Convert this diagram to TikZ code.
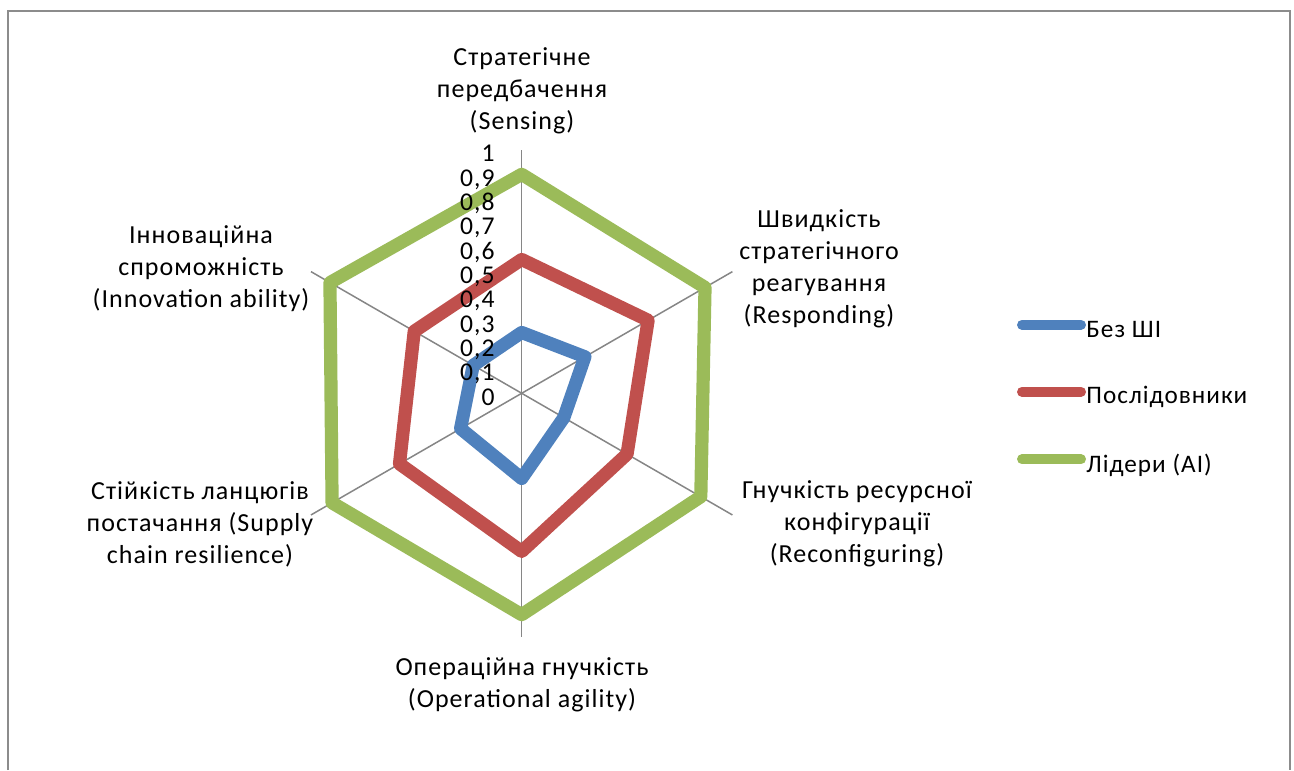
\documentclass[tikz,border=0pt]{standalone}
\usepackage{fontspec}
\setmainfont{Carlito}[LetterSpace=4]
\usetikzlibrary{calc}
\definecolor{serblue}{HTML}{4F81BD}
\definecolor{serred}{HTML}{C0504D}
\definecolor{sergreen}{HTML}{9BBB59}
\definecolor{axisgray}{HTML}{868686}
\definecolor{framegray}{HTML}{8C8C8C}
\begin{document}
\begin{tikzpicture}[x=0.5pt,y=0.5pt,
  series/.style={line width=6.6pt, line join=round, line cap=round},
  spoke/.style={draw=axisgray, line width=0.75pt},
  framestyle/.style={draw=framegray, line width=1pt},
  axislbl/.style={align=center, font=\fontsize{13}{16}\selectfont, inner sep=0pt},
  ticklbl/.style={anchor=base east, font=\fontsize{12.8}{15}\selectfont, inner sep=0pt},
  leglbl/.style={anchor=base west, font=\fontsize{12.6}{15}\selectfont, inner sep=0pt},
  legline/.style={line width=5pt, line cap=round},
]
\useasboundingbox (0,0) rectangle (1294,770);
% frame
\coordinate (f1) at (7.7,0);
\coordinate (f2) at (7.7,759);
\coordinate (f3) at (1289.5,759);
\coordinate (f4) at (1289.5,0);
\draw[framestyle] (f1) -- (f2) -- (f3) -- (f4);
% centre and spokes
\coordinate (C) at (521.7,376.7);
\def\R{243.3}
\foreach \a [count=\i] in {90,30,-30,-90,-150,150}
  \draw[spoke] (C) -- ++(\a:\R) coordinate (ax\i);
% series
\draw[series, serblue] ($(C)+(90:{0.25*\R})$) -- ($(C)+(30:{0.30*\R})$) -- ($(C)+(-30:{0.20*\R})$)
  -- ($(C)+(-90:{0.35*\R})$) -- ($(C)+(-150:{0.29*\R})$) -- ($(C)+(150:{0.23*\R})$) -- cycle;
\draw[series, serred] ($(C)+(90:{0.55*\R})$) -- ($(C)+(30:{0.60*\R})$) -- ($(C)+(-30:{0.50*\R})$)
  -- ($(C)+(-90:{0.65*\R})$) -- ($(C)+(-150:{0.58*\R})$) -- ($(C)+(150:{0.51*\R})$) -- cycle;
\draw[series, sergreen] ($(C)+(90:{0.90*\R})$) -- ($(C)+(30:{0.87*\R})$) -- ($(C)+(-30:{0.85*\R})$)
  -- ($(C)+(-90:{0.91*\R})$) -- ($(C)+(-150:{0.90*\R})$) -- ($(C)+(150:{0.91*\R})$) -- cycle;
% tick labels
\foreach \v/\t in {0/0,1/{0,1},2/{0,2},3/{0,3},4/{0,4},5/{0,5},6/{0,6},7/{0,7},8/{0,8},9/{0,9},10/1}
  \node[ticklbl] (tick\v) at (495,{364.7+\v*24.33}) {\t};
% axis labels
\node[axislbl] (lsense) at (522,679) {Стратегічне\\передбачення\\(Sensing)};
\node[axislbl] (lresp) at (819,501) {Швидкість\\стратегічного\\реагування\\(Responding)};
\node[axislbl] (lreconf) at (857,246) {Гнучкість ресурсної\\конфігурації\\(Reconfiguring)};
\node[axislbl] (loper) at (522,85) {Операційна гнучкість\\(Operational agility)};
\node[axislbl] (lsupply) at (200,246) {Стійкість ланцюгів\\постачання (Supply\\chain resilience)};
\node[axislbl] (linnov) at (201,501) {Інноваційна\\спроможність\\(Innovation ability)};
% legend
\coordinate (lb1) at (1022,445.3); \coordinate (lb2) at (1081,445.3);
\coordinate (lr1) at (1022,378.3); \coordinate (lr2) at (1081,378.3);
\coordinate (lg1) at (1022,310.7); \coordinate (lg2) at (1081,310.7);
\draw[legline, serblue] (lb1) -- (lb2);
\draw[legline, serred] (lr1) -- (lr2);
\draw[legline, sergreen] (lg1) -- (lg2);
\node[leglbl] (tb) at (1086,432.3) {Без ШІ};
\node[leglbl] (tr) at (1086,366.3) {Послідовники};
\node[leglbl] (tg) at (1086,297.7) {Лідери (AI)};
\end{tikzpicture}
\end{document}
